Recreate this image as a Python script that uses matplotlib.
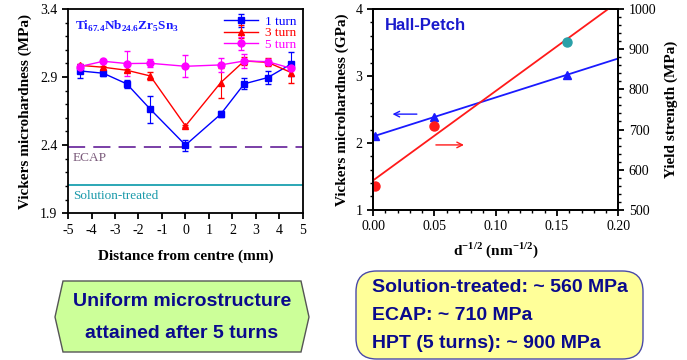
import matplotlib
matplotlib.use('Agg')
import matplotlib.pyplot as plt
import numpy as np
from matplotlib.patches import Polygon, FancyBboxPatch
from matplotlib.ticker import MultipleLocator

plt.rcParams['font.family'] = ['Liberation Serif', 'DejaVu Serif']
plt.rcParams['mathtext.fontset'] = 'custom'
plt.rcParams['mathtext.rm'] = 'Liberation Serif'
plt.rcParams['mathtext.bf'] = 'Liberation Serif:bold'
plt.rcParams['axes.unicode_minus'] = False

# hardness profile across the disc
positions = [-4.5, -3.5, -2.5, -1.5, 0, 1.5, 2.5, 3.5, 4.5]
hv_1turn = [2.945, 2.928, 2.85, 2.664, 2.40, 2.627, 2.85, 2.896, 2.996]
err_1turn = [0.05, 0.02, 0.03, 0.10, 0.04, 0.02, 0.04, 0.05, 0.09]
hv_3turn = [2.986, 2.972, 2.95, 2.908, 2.541, 2.859, 3.018, 3.008, 2.933]
err_3turn = [0.01, 0.01, 0.01, 0.03, 0.01, 0.11, 0.03, 0.03, 0.08]
hv_5turn = [2.977, 3.016, 2.999, 3.001, 2.979, 2.989, 3.018, 3.013, 2.964]
err_5turn = [0.01, 0.01, 0.09, 0.03, 0.08, 0.05, 0.05, 0.02, 0.01]
hv_ecap = 2.387
hv_solution = 2.103

# Hall-Petch data
d_inv_sqrt = [0.002, 0.05, 0.158]
hv_gpa = [2.104, 2.393, 3.015]
yield_mpa = [560, 710, 917]

fig = plt.figure(figsize=(6.87, 3.6), dpi=100)

# ---------------- left panel
ax = fig.add_axes([0.099, 0.408, 0.342, 0.567])
ax.errorbar(positions, hv_1turn, yerr=err_1turn, color='#0000ff', marker='s',
            ms=5, lw=1, capsize=2, elinewidth=0.8, label='1 turn')
ax.errorbar(positions, hv_3turn, yerr=err_3turn, color='#ff0000', marker='^',
            ms=5, lw=1, capsize=2, elinewidth=0.8, label='3 turn')
ax.errorbar(positions, hv_5turn, yerr=err_5turn, color='#ff00ff', marker='o',
            ms=5, lw=1, capsize=2, elinewidth=0.8, label='5 turn')
ax.axhline(hv_ecap, color='#7030a0', lw=1.3, dashes=(9.5, 4.5))
ax.axhline(hv_solution, color='#1aa0b0', lw=1.3)
ax.text(-4.8, hv_ecap - 0.035, 'ECAP', color='#7a5a7a', fontsize=9.5, va='top')
ax.text(-4.8, hv_solution - 0.035, 'Solution-treated', color='#1a9aaa',
        fontsize=9.5, va='top')
ax.text(-4.7, 3.33, r'Ti$_{\mathbf{67.4}}$Nb$_{\mathbf{24.6}}$Zr$_{\mathbf{5}}$Sn$_{\mathbf{3}}$',
        color='#1a1aff', fontsize=9.5, fontweight='bold', va='top')
ax.set_xlim(-5, 5)
ax.set_ylim(1.9, 3.4)
ax.set_yticks([1.9, 2.4, 2.9, 3.4])
ax.yaxis.set_minor_locator(MultipleLocator(0.1))
ax.set_xticks(range(-5, 6))
ax.tick_params(direction='out', labelsize=10, width=1.3, length=4)
ax.tick_params(which='minor', direction='out', width=1, length=2.5)
ax.set_xlabel('Distance from centre (mm)', fontsize=11, fontweight='bold', labelpad=9)
ax.set_ylabel('Vickers microhardness (MPa)', fontsize=11, fontweight='bold', labelpad=6)
for s in ax.spines.values():
    s.set_linewidth(1.3)
leg = ax.legend(loc='upper right', frameon=False, fontsize=9.5, handlelength=2.6,
                borderaxespad=0.1, labelspacing=-0.05, handletextpad=0.5)
for txt, c in zip(leg.get_texts(), ['#0000ff', '#ff0000', '#ff00ff']):
    txt.set_color(c)

# ---------------- right panel
bx = fig.add_axes([0.543, 0.417, 0.357, 0.558])
bx2 = bx.twinx()
xfit = np.linspace(0, 0.2, 50)
p_hv = np.polyfit(d_inv_sqrt, hv_gpa, 1)
p_ys = np.polyfit(d_inv_sqrt, yield_mpa, 1)
bx.plot(xfit, np.polyval(p_hv, xfit), color='#1a1aff', lw=1.3)
bx.plot(d_inv_sqrt, hv_gpa, ls='none', marker='^', ms=6, color='#1a1aff')
bx2.plot(xfit, np.polyval(p_ys, xfit), color='#ff1a1a', lw=1.3)
bx2.plot(d_inv_sqrt[:2], yield_mpa[:2], ls='none', marker='o', ms=6.5, color='#ff1a1a')
bx2.plot(d_inv_sqrt[2:], yield_mpa[2:], ls='none', marker='o', ms=6.5, color='#2aa0a8')
bx.annotate('', xy=(0.0136, 2.43), xytext=(0.038, 2.43),
            arrowprops=dict(arrowstyle='->', color='#1a1aff', lw=1))
bx.annotate('', xy=(0.0764, 1.97), xytext=(0.049, 1.97),
            arrowprops=dict(arrowstyle='->', color='#ff1a1a', lw=1))
bx.text(0.0095, 3.76, 'Hall-Petch', color='#1a1acc', fontsize=12,
        fontweight='bold', family=['Liberation Sans'], va='center')
bx.set_xlim(0, 0.2)
bx.set_ylim(1, 4)
bx2.set_ylim(500, 1000)
bx.set_xticks([0, 0.05, 0.1, 0.15, 0.2])
bx.set_xticklabels(['0.00', '0.05', '0.10', '0.15', '0.20'])
bx.xaxis.set_minor_locator(MultipleLocator(0.01))
bx.set_yticks([1, 2, 3, 4])
bx.yaxis.set_minor_locator(MultipleLocator(0.2))
bx2.set_yticks(range(500, 1001, 100))
bx2.yaxis.set_minor_locator(MultipleLocator(20))
for a in (bx, bx2):
    a.tick_params(direction='out', labelsize=10, width=1.3, length=4)
    a.tick_params(which='minor', direction='out', width=1, length=2.5)
    for s in a.spines.values():
        s.set_linewidth(1.3)
bx.set_xlabel(r'd$^{\mathbf{-1/2}}$ (nm$^{\mathbf{-1/2}}$)', fontsize=11,
              fontweight='bold', labelpad=5)
bx.set_ylabel('Vickers microhardness (GPa)', fontsize=11, fontweight='bold', labelpad=5)
bx2.set_ylabel('Yield strength (MPa)', fontsize=11, fontweight='bold', labelpad=6)

# ---------------- bottom boxes
W, H = 687.0, 360.0
def fp(x, y):
    return (x / W, 1 - y / H)

hexagon = Polygon([fp(55, 317), fp(63, 281), fp(301, 281), fp(309, 317),
                   fp(301, 352), fp(63, 352)], closed=True,
                  transform=fig.transFigure, facecolor='#ccff99',
                  edgecolor='#555555', lw=1)
fig.patches.append(hexagon)
fig.text(182 / W, 1 - 302 / H, 'Uniform microstructure', ha='center', va='center',
         fontsize=14, fontweight='bold', color='#0a0a8c', family=['Liberation Sans'])
fig.text(182 / W, 1 - 333 / H, 'attained after 5 turns', ha='center', va='center',
         fontsize=14, fontweight='bold', color='#0a0a8c', family=['Liberation Sans'])

x0, y0 = fp(356, 359)
x1, y1 = fp(643, 271)
box = FancyBboxPatch((x0, y0), x1 - x0, y1 - y0,
                     boxstyle='round,pad=0,rounding_size=0.03',
                     transform=fig.transFigure, facecolor='#ffff99',
                     edgecolor='#4a4aa8', lw=1, mutation_aspect=W / H)
fig.patches.append(box)
for ypix, line in [(287, 'Solution-treated: ~ 560 MPa'), (316, 'ECAP: ~ 710 MPa'),
                   (344, 'HPT (5 turns): ~ 900 MPa')]:
    fig.text(372 / W, 1 - ypix / H, line, ha='left', va='center', fontsize=14,
             fontweight='bold', color='#0a0a8c', family=['Liberation Sans'])

fig.savefig('out.png', dpi=100)
